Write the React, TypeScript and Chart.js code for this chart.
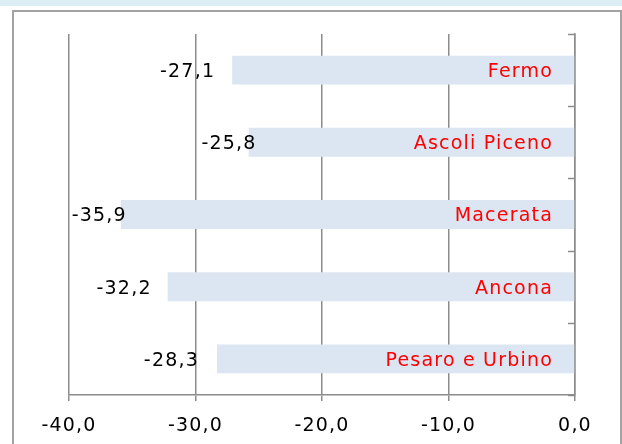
import React, { useEffect, useRef } from 'react';
import { Chart, registerables } from 'chart.js';

Chart.register(...registerables);

const categories = ['Fermo', 'Ascoli Piceno', 'Macerata', 'Ancona', 'Pesaro e Urbino'];
const values = [-27.1, -25.8, -35.9, -32.2, -28.3];
const xMin = -40;
const xMax = 0;
const xStep = 10;

const FONT = '"DejaVu Sans", sans-serif';
const FONT_SIZE = 19;
const SPACING = '1.2px';
// value-label right edge offset from the bar's end (as placed in the original)
const LABEL_SHIFT = [-18, 7, 5, -17, -19];

const fmt = (v: number) => v.toFixed(1).replace('.', ',');

const framePlugin = {
  id: 'frame',
  beforeDraw(chart: any) {
    const { ctx, width, height } = chart;
    ctx.save();
    ctx.fillStyle = '#ffffff';
    ctx.fillRect(0, 0, width, height);
    ctx.fillStyle = '#daeef3';
    ctx.fillRect(0, 0, width, 6);
    ctx.strokeStyle = '#a3a3a3';
    ctx.lineWidth = 2;
    ctx.strokeRect(13, 11, width - 14, height + 20);
    ctx.restore();
    ctx.letterSpacing = SPACING;
  },
  afterDraw(chart: any) {
    const { ctx } = chart;
    const y = chart.scales.y;
    const x = chart.scales.x;
    const axisX = x.getPixelForValue(0);
    ctx.save();
    ctx.strokeStyle = '#8c8c8c';
    ctx.lineWidth = 1.5;
    for (let i = 0; i <= categories.length; i++) {
      const py = Math.round(y.getPixelForValue(i - 0.5)) + 0.5;
      ctx.beginPath();
      ctx.moveTo(axisX - 7, py);
      ctx.lineTo(axisX, py);
      ctx.stroke();
    }
    ctx.restore();
    ctx.letterSpacing = '0px';
  },
};

const labelPlugin = {
  id: 'barLabels',
  afterDatasetsDraw(chart: any) {
    const { ctx } = chart;
    const meta = chart.getDatasetMeta(0);
    const zeroX = chart.scales.x.getPixelForValue(0);
    ctx.save();
    ctx.letterSpacing = SPACING;
    ctx.font = `${FONT_SIZE}px ${FONT}`;
    ctx.textBaseline = 'middle';
    ctx.textAlign = 'right';
    meta.data.forEach((bar: any, i: number) => {
      ctx.fillStyle = '#000000';
      ctx.fillText(fmt(values[i]), bar.x + LABEL_SHIFT[i] + 1, bar.y + 2);
      ctx.fillStyle = '#ff0000';
      ctx.fillText(categories[i], zeroX - 23 + 1, bar.y + 2);
    });
    ctx.restore();
  },
};

export default function App() {
  const ref = useRef<HTMLCanvasElement | null>(null);

  useEffect(() => {
    if (!ref.current) return;
    const chart = new Chart(ref.current, {
      type: 'bar',
      data: {
        labels: categories,
        datasets: [
          {
            data: values,
            backgroundColor: '#dce6f2',
            borderWidth: 0,
            barPercentage: 0.4,
            categoryPercentage: 1,
          },
        ],
      },
      options: {
        indexAxis: 'y',
        responsive: false,
        animation: false,
        devicePixelRatio: 1,
        layout: { padding: { left: 69, top: 34, right: 47, bottom: 0 } },
        plugins: {
          legend: { display: false },
          tooltip: { enabled: false },
          title: { display: false },
        },
        scales: {
          x: {
            type: 'linear',
            min: xMin,
            max: xMax,
            ticks: {
              stepSize: xStep,
              callback: (v: any) => fmt(Number(v)),
              font: { family: FONT, size: FONT_SIZE },
              color: '#000000',
              padding: 14,
              maxRotation: 0,
            },
            grid: {
              color: '#8c8c8c',
              lineWidth: 1.5,
              tickLength: 6,
              drawTicks: true,
            },
            border: { display: true, color: '#8c8c8c', width: 1.5 },
            afterFit: (s: any) => {
              s.height = 49;
            },
          },
          y: {
            type: 'category',
            position: 'right',
            offset: true,
            ticks: { display: false },
            grid: { display: false, drawTicks: false },
            border: { display: true, color: '#8c8c8c', width: 1.5 },
            afterFit: (s: any) => {
              s.width = 0;
            },
          },
        },
      },
      plugins: [framePlugin, labelPlugin],
    });
    return () => chart.destroy();
  }, []);

  return (
    <div style={{ position: 'fixed', left: 0, top: 0, width: 622, height: 444, background: '#fff' }}>
      <canvas ref={ref} width={622} height={444} style={{ display: 'block' }} />
    </div>
  );
}
